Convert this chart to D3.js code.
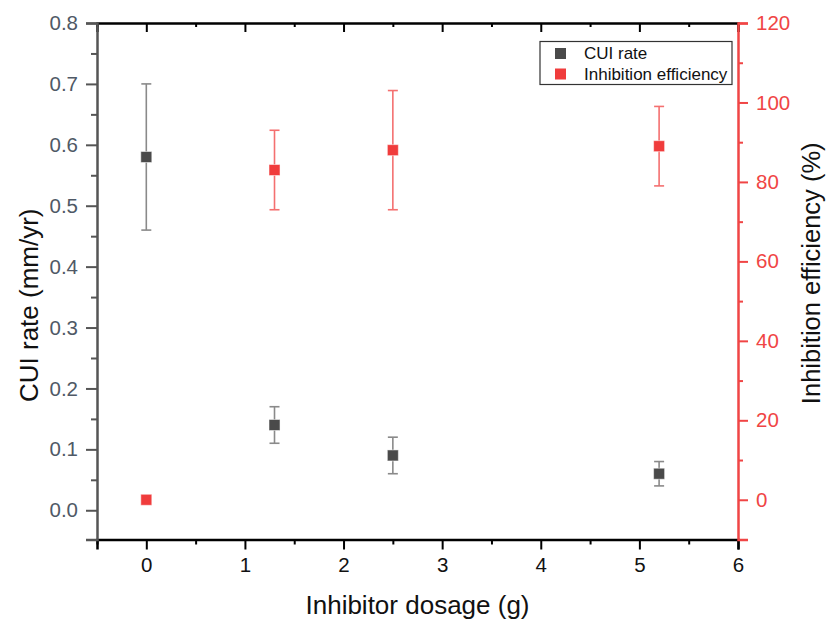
<!DOCTYPE html>
<html>
<head>
<meta charset="utf-8">
<script src="https://cdn.jsdelivr.net/npm/d3@7"></script>
<style>
  html, body { margin: 0; padding: 0; background: #fff; }
  svg { display: block; font-family: Arial, "Liberation Sans", sans-serif; }
</style>
</head>
<body>
<svg id="chart" width="827" height="621"></svg>
<script>
// Inhibitor dosage (g)
const dosage = [0, 1.3, 2.5, 5.2];
// CUI rate (mm/yr) with error range
const cuiRate = [0.58, 0.14, 0.09, 0.06];
const cuiErr = [0.12, 0.03, 0.03, 0.02];
// Inhibition efficiency (%) with error range
const effDosage = [0, 1.3, 2.5, 5.2];
const efficiency = [0, 83, 88, 89];
const effErr = [0, 10, 15, 10];

const xTicks = [0, 1, 2, 3, 4, 5, 6];
const leftTicks = [0.0, 0.1, 0.2, 0.3, 0.4, 0.5, 0.6, 0.7, 0.8];
const rightTicks = [0, 20, 40, 60, 80, 100, 120];

const svg = d3.select("#chart");
const m = { left: 97, right: 738, top: 23, bottom: 539.5 };

const x = d3.scaleLinear().domain([-0.5, 6]).range([m.left, m.right]);
const yL = d3.scaleLinear().domain([-0.048, 0.8]).range([m.bottom, m.top]);
const yR = d3.scaleLinear().domain([-10, 120]).range([m.bottom, m.top]);

const gray = "#555555";
const red = "#f04545";

// bottom axis
const gx = svg.append("g").attr("transform", `translate(0,${m.bottom})`)
  .call(d3.axisBottom(x).tickValues(xTicks).tickFormat(d3.format("d")).tickSizeOuter(0).tickSize(10).tickPadding(8));
gx.select(".domain").attr("stroke", "#000").attr("stroke-width", 2.5);
gx.selectAll(".tick line").attr("stroke", "#000").attr("stroke-width", 2);
gx.selectAll(".tick text").attr("font-size", 20.5).attr("fill", "#111");
svg.append("g").attr("transform", `translate(0,${m.bottom})`)
  .call(d3.axisBottom(x).tickValues(d3.range(-0.5, 6, 1)).tickFormat("").tickSizeOuter(0).tickSize(5))
  .call(g => g.select(".domain").remove())
  .selectAll(".tick line").attr("stroke", "#000").attr("stroke-width", 2);

// top frame line
const gt = svg.append("g").attr("transform", `translate(0,${m.top})`)
  .call(d3.axisBottom(x).tickValues(xTicks).tickFormat("").tickSizeOuter(0).tickSize(9));
gt.select(".domain").attr("stroke", "#000").attr("stroke-width", 2.5);
gt.selectAll(".tick line").attr("stroke", "#000").attr("stroke-width", 2);
svg.append("g").attr("transform", `translate(0,${m.top})`)
  .call(d3.axisBottom(x).tickValues(d3.range(-0.5, 6, 1)).tickFormat("").tickSizeOuter(0).tickSize(4))
  .call(g => g.select(".domain").remove())
  .selectAll(".tick line").attr("stroke", "#000").attr("stroke-width", 2);

// left axis
const gl = svg.append("g").attr("transform", `translate(${m.left},0)`)
  .call(d3.axisLeft(yL).tickValues(leftTicks).tickFormat(d3.format(".1f")).tickSizeOuter(0).tickSize(11).tickPadding(8));
gl.select(".domain").attr("stroke", gray).attr("stroke-width", 2.5);
gl.selectAll(".tick line").attr("stroke", gray).attr("stroke-width", 2);
gl.selectAll(".tick text").attr("font-size", 20.5).attr("fill", "#4f5966");
svg.append("g").attr("transform", `translate(${m.left},0)`)
  .call(d3.axisLeft(yL).tickValues([0.05, 0.15, 0.25, 0.35, 0.45, 0.55, 0.65, 0.75]).tickFormat("").tickSizeOuter(0).tickSize(6))
  .call(g => g.select(".domain").remove())
  .selectAll(".tick line").attr("stroke", gray).attr("stroke-width", 2);

// right axis
const gr = svg.append("g").attr("transform", `translate(${m.right},0)`)
  .call(d3.axisRight(yR).tickValues(rightTicks).tickFormat(d3.format("d")).tickSizeOuter(0).tickSize(10).tickPadding(8));
gr.select(".domain").attr("stroke", red).attr("stroke-width", 2.5);
gr.selectAll(".tick line").attr("stroke", red).attr("stroke-width", 2);
gr.selectAll(".tick text").attr("font-size", 20.5).attr("fill", red);
svg.append("g").attr("transform", `translate(${m.right},0)`)
  .call(d3.axisRight(yR).tickValues([10, 30, 50, 70, 90, 110]).tickFormat("").tickSizeOuter(0).tickSize(5))
  .call(g => g.select(".domain").remove())
  .selectAll(".tick line").attr("stroke", red).attr("stroke-width", 2);

// error bars + markers
function series(xs, ys, es, yScale, fill, errColor) {
  const g = svg.append("g");
  const data = xs.map((d, i) => ({ x: d, y: ys[i], e: es[i] })).filter(d => d.e > 0);
  g.selectAll("line.v").data(data).join("line")
    .attr("x1", d => x(d.x)).attr("x2", d => x(d.x))
    .attr("y1", d => yScale(d.y + d.e)).attr("y2", d => yScale(d.y - d.e))
    .attr("stroke", errColor).attr("stroke-width", 1.6);
  [1, -1].forEach(s => {
    g.selectAll(null).data(data).join("line")
      .attr("x1", d => x(d.x) - 5).attr("x2", d => x(d.x) + 5)
      .attr("y1", d => yScale(d.y + s * d.e)).attr("y2", d => yScale(d.y + s * d.e))
      .attr("stroke", errColor).attr("stroke-width", 1.6);
  });
  g.selectAll("rect").data(xs.map((d, i) => ({ x: d, y: ys[i] }))).join("rect")
    .attr("x", d => x(d.x) - 5.5).attr("y", d => yScale(d.y) - 5.5)
    .attr("width", 11).attr("height", 11)
    .attr("fill", fill).attr("stroke", "#fff").attr("stroke-opacity", 0.5).attr("stroke-width", 1);
}
series(dosage, cuiRate, cuiErr, yL, "#4a4a4a", "#8a8a8a");
series(effDosage, efficiency, effErr, yR, "#f03c3c", "#f47070");

// axis titles
svg.append("text").attr("x", x(2.75)).attr("y", 614).attr("text-anchor", "middle")
  .attr("font-size", 26).attr("fill", "#111").text("Inhibitor dosage (g)");
svg.append("text").attr("transform", `translate(38,${(m.top + m.bottom) / 2 + 24}) rotate(-90)`)
  .attr("text-anchor", "middle").attr("font-size", 26).attr("fill", "#111").text("CUI rate (mm/yr)");
svg.append("text").attr("transform", `translate(820,${(m.top + m.bottom) / 2 - 8}) rotate(-90)`)
  .attr("text-anchor", "middle").attr("font-size", 25.5).attr("fill", "#111").text("Inhibition efficiency (%)");

// legend
const legend = svg.append("g");
legend.append("rect").attr("x", 540).attr("y", 41.5).attr("width", 192).attr("height", 43)
  .attr("fill", "#fff").attr("stroke", "#333").attr("stroke-width", 1.2);
const legendItems = [{ label: "CUI rate", color: "#4a4a4a" }, { label: "Inhibition efficiency", color: "#f03c3c" }];
legendItems.forEach((d, i) => {
  legend.append("rect").attr("x", 555).attr("y", 48 + i * 20.5).attr("width", 11).attr("height", 11).attr("fill", d.color);
  legend.append("text").attr("x", 584).attr("y", 59 + i * 20.5).attr("font-size", 17).attr("fill", "#111").text(d.label);
});
</script>
</body>
</html>
